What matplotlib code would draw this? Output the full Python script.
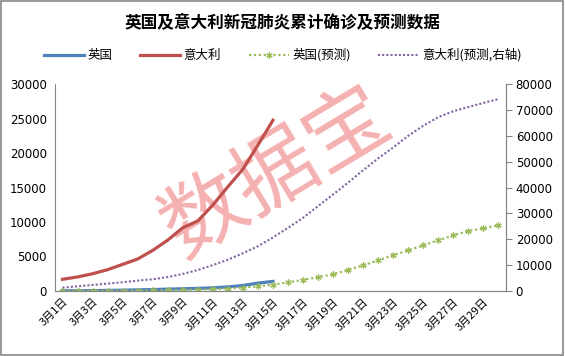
import numpy as np
import matplotlib.pyplot as plt
from matplotlib.patches import Rectangle

plt.rcParams['font.family'] = ['Noto Sans CJK SC', 'DejaVu Sans']

# 日期 3月1日 ~ 3月30日
days = [f"3月{d}日" for d in range(1, 31)]

# 实际累计确诊 (3/1 ~ 3/15)
uk_actual = [36, 40, 51, 87, 116, 164, 207, 273, 321, 382, 456, 590, 798, 1140, 1391]
italy_actual = [1694, 2036, 2502, 3089, 3858, 4636, 5883, 7375, 9172, 10149,
                12462, 15113, 17660, 21157, 24747]

# 预测 (3/1 ~ 3/30)
uk_pred = [10, 15, 20, 30, 40, 60, 80, 110, 150, 200,
           260, 340, 500, 680, 920, 1260, 1600, 2000, 2430, 3040,
           3720, 4450, 5170, 5900, 6620, 7350, 8070, 8700, 9090, 9520]
italy_pred = [1280, 1800, 2330, 2850, 3380, 4010, 4540, 5400, 6600, 8100,
              10000, 12100, 14600, 17300, 20700, 24400, 28300, 32800, 37300, 41900,
              46700, 51300, 55500, 60000, 63900, 67200, 69500, 71100, 72700, 74200]

fig = plt.figure(figsize=(5.65, 3.56), dpi=100)
fig.patches.append(Rectangle((0.002, 0.003), 0.995, 0.993, transform=fig.transFigure,
                             fill=False, edgecolor='#868686', linewidth=1.2))

ax = fig.add_axes([0.0973, 0.1826, 0.7983, 0.5814])
ax2 = ax.twinx()

x = np.arange(len(days))
l1, = ax.plot(x[:len(uk_actual)], uk_actual, color='#4F81BD', lw=2.3, label='英国')
l2, = ax.plot(x[:len(italy_actual)], italy_actual, color='#C0504D', lw=2.3, label='意大利')
l3, = ax.plot(x, uk_pred, color='#9BBB59', lw=1.6, ls=(0, (1, 1.2)),
              marker=(6, 2, 0), markersize=4.5, markeredgewidth=0.9, label='英国(预测)')
l4, = ax2.plot(x, italy_pred, color='#8064A2', lw=1.5, ls=(0, (1, 1)),
               label='意大利(预测,右轴)')

ax.set_xlim(-0.5, len(days) - 0.5)
ax.set_ylim(0, 30000)
ax.set_yticks(range(0, 30001, 5000))
ax2.set_ylim(0, 80000)
ax2.set_yticks(range(0, 80001, 10000))

ax.set_xticks(x[::2])
ax.set_xticklabels(days[::2], rotation=45, ha='right', rotation_mode='anchor', fontsize=8)

for a in (ax, ax2):
    for s in a.spines.values():
        s.set_color('#868686')
    a.spines['top'].set_visible(False)
ax2.spines['left'].set_visible(False)
ax.tick_params(axis='y', length=0, labelsize=8.5, pad=6)
ax.tick_params(axis='x', length=0, pad=4)
ax2.tick_params(axis='y', length=4, color='#868686', labelsize=8.5, pad=3)
for lab in ax.get_yticklabels() + ax2.get_yticklabels():
    lab.set_family('DejaVu Sans')

ax.set_zorder(ax2.get_zorder() + 1)
ax.patch.set_visible(False)

fig.text(0.5, 0.935, '英国及意大利新冠肺炎累计确诊及预测数据', ha='center', va='center',
         fontsize=12, fontweight='bold')
fig.legend(handles=[l1, l2, l3, l4], loc='center', bbox_to_anchor=(0.5, 0.845), ncol=4,
           frameon=False, fontsize=9, handlelength=3.2, columnspacing=2.2, handletextpad=0.3)

# 水印
ax2.text(0.49, 0.515, '数据宝', transform=fig.transFigure, fontsize=60, color='#F4A3A3',
         fontweight='medium', alpha=0.85, rotation=31, ha='center', va='center', zorder=0)

fig.savefig('out.png', dpi=100)
